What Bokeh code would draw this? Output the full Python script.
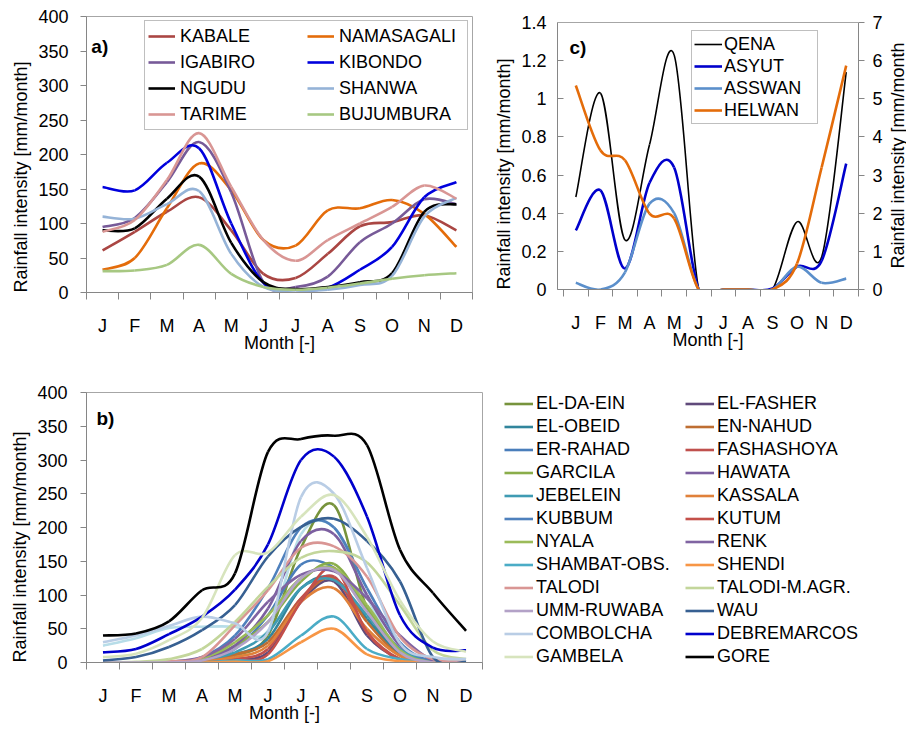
import numpy as np
from math import pi
from bokeh.plotting import figure
from bokeh.models import (Range1d, LinearAxis, FixedTicker, Legend, LegendItem, Label,
                          Title, Span)
from bokeh.layouts import column, row
from bokeh.embed import file_html
from bokeh.resources import INLINE
from bokeh.core.properties import value

# ---------------- data ----------------
month_labels = ["J", "F", "M", "A", "M", "J", "J", "A", "S", "O", "N", "D"]
month_pos = [0.5 + i for i in range(12)]

# panel a) (mm/month)
a_names = ["KABALE", "NAMASAGALI", "IGABIRO", "KIBONDO", "NGUDU", "SHANWA", "TARIME", "BUJUMBURA"]
kabale = [61, 88, 117, 138, 90, 27, 21, 56, 96, 102, 112, 90]
namasagali = [33, 50, 122, 187, 148, 76, 68, 119, 122, 134, 114, 66]
igabiro = [95, 108, 160, 218, 145, 15, 8, 23, 73, 100, 135, 128]
kibondo = [153, 148, 188, 209, 100, 14, 4, 7, 33, 66, 138, 160]
ngudu = [90, 93, 136, 168, 72, 15, 5, 8, 15, 28, 117, 128]
shanwa = [110, 107, 128, 147, 56, 8, 3, 4, 11, 24, 110, 137]
tarime = [88, 105, 163, 231, 153, 76, 46, 76, 100, 124, 155, 136]
bujumbura = [31, 32, 40, 69, 27, 8, 4, 7, 13, 20, 25, 28]
a_values = [kabale, namasagali, igabiro, kibondo, ngudu, shanwa, tarime, bujumbura]
a_colors = ["#aa4643", "#e46c0a", "#775a98", "#0000dd", "#000000", "#95b3d7", "#d99694", "#a7c882"]

# panel b) (mm/month)
b_names = ["EL-DA-EIN", "EL-FASHER", "EL-OBEID", "EN-NAHUD", "ER-RAHAD", "FASHASHOYA",
           "GARCILA", "HAWATA", "JEBELEIN", "KASSALA", "KUBBUM", "KUTUM",
           "NYALA", "RENK", "SHAMBAT-OBS.", "SHENDI", "TALODI", "TALODI-M.AGR.",
           "UMM-RUWABA", "WAU", "COMBOLCHA", "DEBREMARCOS", "GAMBELA", "GORE"]
el_da_ein = [0, 0, 0, 1, 10, 40, 170, 233, 80, 12, 0, 0]
el_fasher = [0, 0, 0, 1, 5, 15, 90, 120, 40, 5, 0, 0]
el_obeid = [0, 0, 0, 2, 12, 35, 110, 125, 65, 12, 0, 0]
en_nahud = [0, 0, 0, 2, 12, 30, 95, 125, 60, 10, 0, 0]
er_rahad = [0, 0, 0, 3, 20, 70, 145, 140, 80, 20, 1, 0]
fashashoya = [0, 0, 0, 1, 5, 20, 95, 127, 45, 5, 0, 0]
garcila = [0, 0, 1, 5, 25, 60, 120, 146, 80, 15, 0, 0]
hawata = [0, 0, 0, 3, 25, 80, 180, 190, 100, 25, 1, 0]
jebelein = [0, 0, 0, 3, 15, 45, 110, 122, 70, 20, 1, 0]
kassala = [0, 0, 0, 2, 8, 25, 90, 110, 50, 10, 0, 0]
kubbum = [0, 0, 1, 8, 40, 110, 200, 200, 110, 30, 1, 0]
kutum = [0, 0, 0, 0, 3, 12, 90, 140, 45, 4, 0, 0]
nyala = [0, 0, 1, 6, 30, 70, 125, 140, 85, 18, 0, 0]
renk = [0, 0, 1, 8, 35, 90, 130, 135, 95, 40, 3, 0]
shambat = [0, 0, 0, 0, 3, 5, 40, 68, 20, 5, 0, 0]
shendi = [0, 0, 0, 0, 1, 2, 30, 50, 12, 2, 0, 0]
talodi = [0, 0, 2, 8, 55, 107, 170, 172, 127, 38, 5, 1]
talodi_magr = [0, 1, 5, 20, 60, 112, 155, 165, 148, 85, 18, 5]
umm_ruwaba = [0, 0, 0, 3, 20, 60, 125, 137, 75, 15, 0, 0]
wau = [3, 8, 23, 48, 85, 157, 201, 213, 180, 120, 8, 1]
combolcha = [30, 40, 54, 68, 58, 45, 245, 250, 140, 28, 8, 5]
debremarcos = [15, 20, 42, 68, 108, 175, 300, 305, 216, 70, 22, 18]
gambela = [8, 13, 33, 66, 159, 163, 216, 248, 186, 92, 31, 16]
gore = [40, 43, 61, 107, 132, 312, 331, 336, 322, 167, 103, 47]
b_values = [el_da_ein, el_fasher, el_obeid, en_nahud, er_rahad, fashashoya,
            garcila, hawata, jebelein, kassala, kubbum, kutum,
            nyala, renk, shambat, shendi, talodi, talodi_magr,
            umm_ruwaba, wau, combolcha, debremarcos, gambela, gore]
b_colors = ["#77933c", "#604a7b", "#31859c", "#be6e32", "#4a7ebb", "#c0504d",
            "#8aad4a", "#7c5fa0", "#3f9bb3", "#e0813a", "#4f81bd", "#c4504a",
            "#9bbb59", "#8064a2", "#4bacc6", "#f79646", "#d99694", "#c3d69b",
            "#b3a2c7", "#376092", "#b9cde5", "#0000cc", "#d7e4bd", "#000000"]
# one further pale-blue curve visible in the chart without a legend entry
b_unlabeled = [25, 36, 51, 53, 53, 47, 190, 200, 97, 15, 5, 3]
b_unlabeled_color = "#b7dde8"

# panel c) (mm/month); HELWAN on the secondary axis
c_names = ["QENA", "ASYUT", "ASSWAN", "HELWAN"]
qena = [0.485, 1.03, 0.26, 0.76, 1.23, 0, 0, 0, 0, 0.355, 0.17, 1.14]
asyut = [0.31, 0.52, 0.11, 0.56, 0.64, 0, 0, 0, 0.005, 0.12, 0.15, 0.66]
asswan = [0.035, 0.0, 0.09, 0.45, 0.40, 0, 0, 0, 0, 0.12, 0.035, 0.057]
helwan = [5.35, 3.65, 3.39, 1.99, 1.86, 0, 0, 0, 0, 0.68, 3.2, 5.87]
c_values = [qena, asyut, asswan, helwan]
c_colors = ["#000000", "#0000cc", "#5b8fcb", "#e46c0a"]
c_widths = [1.6, 2.6, 2.6, 2.6]
c_axis = ["default", "default", "default", "right"]
c_left_ticks = [0, 0.2, 0.4, 0.6, 0.8, 1, 1.2, 1.4]
c_left_labels = ["0", "0.2", "0.4", "0.6", "0.8", "1", "1.2", "1.4"]
c_right_ticks = [0, 1, 2, 3, 4, 5, 6, 7]
ab_ticks = [0, 50, 100, 150, 200, 250, 300, 350, 400]

# ---------------- styling ----------------
FN = "Liberation Sans"
FS = "18px"
AXC = "#868686"
OUT = "#a6a6a6"
YTITLE = "Rainfall intensity [mm/month]"


def smooth_segments(yv):
    """Excel-like smoothed line: cubic Bezier control points from neighbours."""
    x = np.asarray(month_pos, float)
    y = np.asarray(yv, float)
    n = len(x)
    xp = np.concatenate([[x[0]], x, [x[-1]]])
    yp = np.concatenate([[y[0]], y, [y[-1]]])
    return dict(
        x0=x[:-1], y0=y[:-1], x1=x[1:], y1=y[1:],
        cx0=x[:-1] + (xp[2:n + 1] - xp[0:n - 1]) / 6.0,
        cy0=y[:-1] + (yp[2:n + 1] - yp[0:n - 1]) / 6.0,
        cx1=x[1:] - (xp[3:n + 2] - xp[1:n]) / 6.0,
        cy1=y[1:] - (yp[3:n + 2] - yp[1:n]) / 6.0,
    )


def make_fig(geom, xr, yr):
    fl, fr, ft, fb, bl, br, bt, bb = geom
    p = figure(frame_width=fr - fl, frame_height=fb - ft,
               min_border_left=bl, min_border_right=br,
               min_border_top=bt, min_border_bottom=bb,
               x_range=Range1d(*xr), y_range=Range1d(*yr),
               output_backend="svg", toolbar_location=None)
    p.grid.visible = False
    p.outline_line_color = OUT
    p.outline_line_width = 1
    p.background_fill_color = "white"
    p.border_fill_color = "white"
    xa = p.xaxis[0]
    xa.ticker = FixedTicker(ticks=month_pos, minor_ticks=list(range(13)))
    xa.major_label_overrides = {m: l for m, l in zip(month_pos, month_labels)}
    xa.major_tick_line_color = None
    xa.major_tick_out = 0
    xa.major_tick_in = 0
    xa.minor_tick_line_color = AXC
    xa.minor_tick_out = 7
    xa.minor_tick_in = 0
    xa.axis_line_color = AXC
    xa.major_label_standoff = 16
    xa.major_label_text_font = FN
    xa.major_label_text_font_size = FS
    xa.major_label_text_color = "black"
    xa.axis_label = "Month [-]"
    xa.axis_label_standoff = -6
    xa.axis_label_text_font = FN
    xa.axis_label_text_font_size = FS
    xa.axis_label_text_font_style = "normal"
    xa.axis_label_text_color = "black"
    ya = p.yaxis[0]
    ya.minor_tick_line_color = None
    ya.major_tick_line_color = AXC
    ya.major_tick_out = 6
    ya.major_tick_in = 0
    ya.axis_line_color = AXC
    ya.major_label_standoff = 12
    ya.major_label_text_font = FN
    ya.major_label_text_font_size = FS
    ya.major_label_text_color = "black"
    p.add_layout(Title(text=YTITLE, align="left", offset=0, text_font=FN,
                       text_font_size=FS, text_font_style="normal",
                       text_color="black"), "left")
    return p


def panel_letter(p, text, x, y):
    p.add_layout(Label(x=x, y=y, text=text, text_font=FN, text_font_size="19px",
                       text_font_style="bold", text_color="black",
                       text_align="left", text_baseline="alphabetic"))


# ---------------- panel a ----------------
ga = (86, 472, 16, 292, 86, 14, 16, 73)
pa = make_fig(ga, (0, 12), (0, 400))
pa.yaxis[0].ticker = FixedTicker(ticks=ab_ticks)
items = []
for name, vals, col in zip(a_names, a_values, a_colors):
    r = pa.bezier(**smooth_segments(vals), line_color=col, line_width=2.6)
    items.append(LegendItem(label=name, renderers=[r]))
leg_a = Legend(items=items, orientation="horizontal", ncols=2,
               location=(58, 162), label_text_font=FN, label_text_font_size=FS,
               label_text_color="black",
               glyph_width=27, glyph_height=24, label_height=24, label_width=125,
               label_standoff=5, spacing=2, padding=3, margin=0,
               border_line_color="#808080", border_line_width=1,
               background_fill_color="white", background_fill_alpha=1.0)
pa.add_layout(leg_a, "center")
panel_letter(pa, "a)", 0.15, 356)

# ---------------- panel c ----------------
# frame spans 16..289 px; the 0..1.4 scale occupies 22..289 px
c_top = 1.4 * 273 / 267
gc = (557, 858, 16, 289, 71, 30, 16, 76)
pc = make_fig(gc, (-0.245, 12), (0, c_top))
pc.outline_line_color = None
pc.add_layout(Span(location=1.4, dimension="width", line_color=OUT, line_width=1))
pc.yaxis[0].ticker = FixedTicker(ticks=c_left_ticks)
pc.yaxis[0].bounds = (0, 1.4)
pc.yaxis[0].major_label_overrides = {t: l for t, l in zip(c_left_ticks, c_left_labels)}
pc.yaxis[0].major_tick_out = 0
pc.yaxis[0].major_tick_in = 6
pc.yaxis[0].major_label_standoff = 11
pc.extra_y_ranges = {"right": Range1d(0, 7 * 273 / 267)}
ra = LinearAxis(y_range_name="right", ticker=FixedTicker(ticks=c_right_ticks), bounds=(0, 7))
ra.minor_tick_line_color = None
ra.major_tick_line_color = AXC
ra.major_tick_out = 6
ra.major_tick_in = 0
ra.axis_line_color = AXC
ra.major_label_standoff = 8
ra.major_label_text_font = FN
ra.major_label_text_font_size = FS
ra.major_label_text_color = "black"
pc.add_layout(ra, "right")
items = []
for name, vals, col, lw, yax in zip(c_names, c_values, c_colors, c_widths, c_axis):
    r = pc.bezier(**smooth_segments(vals), line_color=col, line_width=lw, y_range_name=yax)
    items.append(LegendItem(label=name, renderers=[r]))
leg_c = Legend(items=items, location=(134, 165), label_text_font=FN,
               label_text_font_size=FS, label_text_color="black",
               glyph_width=28, glyph_height=22,
               label_height=22, label_width=91, label_standoff=2, spacing=0,
               padding=2, margin=0, border_line_color="#808080", border_line_width=1,
               background_fill_color="white", background_fill_alpha=1.0)
pc.add_layout(leg_c, "center")
panel_letter(pc, "c)", 0.243, 1.269)

# narrow strip holding the secondary-axis title of panel c (y in screen px)
pt = figure(frame_width=18, frame_height=273, min_border_left=0, min_border_right=0,
            min_border_top=16, min_border_bottom=76,
            x_range=Range1d(0, 1), y_range=Range1d(289, 16),
            output_backend="svg", toolbar_location=None)
pt.axis.visible = False
pt.grid.visible = False
pt.outline_line_color = None
pt.background_fill_color = "white"
pt.border_fill_color = "white"
pt.text(x=[0.5], y=[268], text=["Rainfall intensity [mm/month"], angle=pi / 2,
        text_align="left", text_baseline="middle", text_font=value(FN),
        text_font_size=value(FS), text_color="black")

# ---------------- panel b ----------------
gb = (86, 482, 392, 662, 86, 424, 27, 64)
pb = make_fig(gb, (0, 12), (0, 400))
pb.yaxis[0].ticker = FixedTicker(ticks=ab_ticks)
pb.yaxis[0].major_label_standoff = 13
pb.bezier(**smooth_segments(b_unlabeled), line_color=b_unlabeled_color, line_width=2.6)
items = []
for name, vals, col in zip(b_names, b_values, b_colors):
    r = pb.bezier(**smooth_segments(vals), line_color=col, line_width=2.6)
    items.append(LegendItem(label=name, renderers=[r]))
leg_b = Legend(items=items, orientation="horizontal", ncols=2,
               location=(22, -5.5), label_text_font=FN, label_text_font_size=FS,
               label_text_color="black",
               glyph_width=29, glyph_height=23, label_height=23, label_width=149,
               label_standoff=3, spacing=0, padding=0, margin=0,
               border_line_color=None, background_fill_alpha=0.0)
pb.add_layout(leg_b, "right")
panel_letter(pb, "b)", 0.303, 361.5)

layout = column(row(pa, pc, pt), pb)
open("out.html", "w").write(file_html(layout, INLINE))
